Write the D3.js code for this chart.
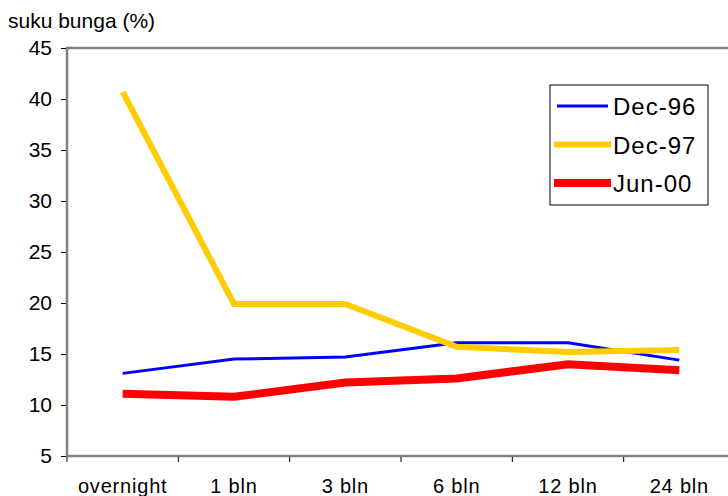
<!DOCTYPE html>
<html>
<head>
<meta charset="utf-8">
<script src="https://cdn.jsdelivr.net/npm/d3@7"></script>
<style>
  html, body { margin: 0; padding: 0; background: #fff; }
  svg { display: block; font-family: "Liberation Sans", Arial, sans-serif; }
</style>
</head>
<body>
<svg id="chart" width="728" height="496"></svg>
<script>
// Tenor categories on the x axis
const tenors = ["overnight", "1 bln", "3 bln", "6 bln", "12 bln", "24 bln"];
// Interest rates (%) per tenor
const dec96 = [13.1, 14.5, 14.7, 16.1, 16.1, 14.4];
const dec97 = [40.7, 19.9, 19.9, 15.7, 15.2, 15.4];
const jun00 = [11.1, 10.8, 12.2, 12.6, 14.0, 13.4];
const yTicks = [5, 10, 15, 20, 25, 30, 35, 40, 45];

const series = [
  { name: "Dec-96", values: dec96, color: "#0000ff", width: 3 },
  { name: "Dec-97", values: dec97, color: "#ffcc00", width: 6 },
  { name: "Jun-00", values: jun00, color: "#ff0000", width: 8 }
];

const svg = d3.select("#chart");
const plotL = 67, plotR = 735, plotT = 48, plotB = 456;
const FONT = "Liberation Sans, Arial, sans-serif";

const x = d3.scaleBand().domain(tenors).range([plotL, plotR]).padding(0);
const y = d3.scaleLinear().domain([5, 45]).range([plotB, plotT]);

// axis title
svg.append("text").attr("x", 8).attr("y", 28)
  .attr("font-size", 21).attr("fill", "#000").text("suku bunga (%)");

// plot frame (top, left, bottom)
svg.append("path")
  .attr("d", `M${plotR},${plotT}H${plotL}V${plotB}H${plotR}`)
  .attr("fill", "none").attr("stroke", "#808080").attr("stroke-width", 2.5);

// y axis
const yAxis = d3.axisLeft(y).tickValues(yTicks).tickSize(5).tickPadding(9);
const gy = svg.append("g").attr("transform", `translate(${plotL - 1},0)`).call(yAxis);
gy.select(".domain").remove();
gy.selectAll(".tick line").attr("stroke", "#000");
gy.selectAll(".tick text").attr("font-size", 21).attr("fill", "#000")
  .attr("font-family", FONT);

// x axis labels centred in bands, ticks on band edges
const xAxis = d3.axisBottom(x).tickSize(0).tickPadding(23);
const gx = svg.append("g").attr("transform", `translate(0,${plotB})`).call(xAxis);
gx.select(".domain").remove();
gx.selectAll(".tick text").attr("font-size", 20).attr("fill", "#000")
  .attr("letter-spacing", 0.8)
  .attr("font-family", FONT);
svg.append("g").selectAll("line")
  .data(tenors)
  .join("line")
  .attr("x1", d => x(d)).attr("x2", d => x(d))
  .attr("y1", plotB + 1).attr("y2", plotB + 6)
  .attr("stroke", "#000").attr("stroke-width", 1);

// series lines
const line = d3.line()
  .x((d, i) => x(tenors[i]) + x.bandwidth() / 2)
  .y(d => y(d));

svg.append("g").selectAll("path")
  .data(series)
  .join("path")
  .attr("d", d => line(d.values))
  .attr("fill", "none")
  .attr("stroke", d => d.color)
  .attr("stroke-width", d => d.width)
  .attr("stroke-linejoin", "miter");

// legend
const lg = svg.append("g");
lg.append("rect").attr("x", 550).attr("y", 85).attr("width", 158).attr("height", 120)
  .attr("fill", "#fff").attr("stroke", "#000").attr("stroke-width", 1);
const rows = lg.selectAll("g.row").data(series).join("g")
  .attr("class", "row")
  .attr("transform", (d, i) => `translate(0,${106 + i * 38.5})`);
rows.append("line")
  .attr("x1", d => d.width < 4 ? 557 : 554).attr("x2", d => d.width < 4 ? 608 : 611)
  .attr("y1", 0).attr("y2", 0)
  .attr("stroke", d => d.color).attr("stroke-width", d => d.width);
rows.append("text").attr("x", 613).attr("y", 9)
  .attr("font-size", 24).attr("letter-spacing", 1).attr("fill", "#000").text(d => d.name);
</script>
</body>
</html>
